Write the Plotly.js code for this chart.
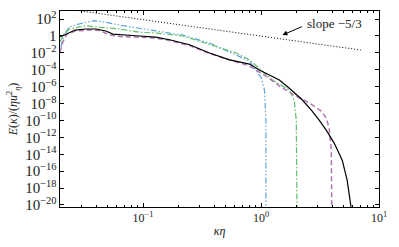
<!DOCTYPE html>
<html><head><meta charset="utf-8">
<script src="https://cdn.plot.ly/plotly-3.0.1.min.js"></script>
<style>html,body{margin:0;padding:0;background:#fff}#chart{width:399px;height:247px}</style>
</head><body><div id="chart"></div>
<script>
// black solid
const kBlack = [0.0198,0.0222,0.0265,0.0328,0.0398,0.0484,0.0555,0.0867,0.128,0.168,0.248,0.366,0.541,0.798,0.968,1.43,1.81,2.24,2.67,3.11,3.57,4.17,4.88,5.37,5.81,5.9];
const eBlack = [0.74,1.66,5.0,6.6,6.6,3.8,1.66,1.05,0.74,0.355,0.091,0.0095,1.5e-3,4.7e-4,9.1e-5,6.0e-6,4.0e-7,2.6e-8,1.7e-9,1.1e-10,7.2e-12,2.1e-13,2.0e-15,8.7e-18,5.6e-21,1e-21];
// purple dashed
const kPurple = [0.0198,0.0209,0.0226,0.0265,0.0354,0.0431,0.0522,0.0635,0.0867,0.128,0.168,0.248,0.366,0.541,0.798,1.07,1.43,1.91,2.32,2.82,3.24,3.57,3.78,3.94,3.97,3.98];
const ePurple = [0.0123,0.19,1.66,3.8,5.0,4.4,1.29,0.85,0.74,0.56,0.29,0.072,0.0083,1.4e-3,2.75e-4,2.3e-5,1.2e-6,1.0e-7,2.6e-8,5.0e-9,1.3e-9,1.9e-10,1.26e-11,3.2e-14,1e-18,1e-21];
// green dash-dot
const kGreen = [0.0198,0.0214,0.0236,0.0328,0.0431,0.0635,0.0938,0.131,0.217,0.366,0.619,0.798,1.03,1.25,1.74,1.91,1.99,2.02,2.02];
const eGreen = [0.19,1.66,6.6,16.2,10.5,6.6,2.7,2.2,0.98,0.091,0.0095,1.5e-3,7.1e-5,6.0e-6,4.0e-7,2.6e-8,1.1e-10,1e-15,1e-21];
// blue dash-dot-dot
const kBlue = [0.0201,0.0214,0.0236,0.0286,0.0383,0.0484,0.0673,0.0993,0.131,0.217,0.366,0.619,0.798,1.007,1.07,1.10,1.10];
const eBlue = [0.049,1.29,11.2,25.7,63,40.7,16.2,6.6,3.8,1.29,0.145,6.0e-3,1.07e-3,1.05e-5,4.0e-7,1.1e-10,1e-21];
// reference slope line
const kSlope = [0.0280,7.02];
const eSlope = [1000,0.0214];
const slopeLabel = "slope \u22125/3";
// tick labels
const xTickVals = [0.1,1,10];
const xTickText = ['10<sup>\u22121</sup>','10<sup>0</sup>','10<sup>1</sup>'];

const serif = "'Liberation Serif', 'DejaVu Serif', serif";
const traces = [
  {x:kSlope,y:eSlope,mode:'lines',line:{color:'#000',width:1,dash:'1px,2px'},hoverinfo:'skip'},
  {x:kBlue,y:eBlue,mode:'lines',line:{color:'#5da5da',width:1.2,dash:'6px,2px,1.5px,2px,1.5px,2px'}},
  {x:kGreen,y:eGreen,mode:'lines',line:{color:'#60bd68',width:1.2,dash:'6px,2px,1.5px,2px'}},
  {x:kPurple,y:ePurple,mode:'lines',line:{color:'#b276b2',width:1.5,dash:'5px,3px'}},
  {x:kBlack,y:eBlack,mode:'lines',line:{color:'#000',width:1.2}}
];
const axisCommon = {type:'log',showline:true,linecolor:'#000',linewidth:1,mirror:'ticks',ticks:'inside',ticklen:4,tickcolor:'#000',
  showgrid:false,zeroline:false,exponentformat:'power',tickfont:{family:serif,size:12,color:'#222'}};
const layout = {
  width:399,height:247,margin:{l:60,r:20,t:11,b:40},
  paper_bgcolor:'#fff',plot_bgcolor:'#fff',showlegend:false,
  xaxis:Object.assign({},axisCommon,{range:[-1.704,1.0],tickvals:xTickVals,ticktext:xTickText,
    minor:{ticks:'inside',ticklen:2,tickcolor:'#000',dtick:'D1',showgrid:false},
    title:{text:'<i>κη</i>',font:{family:serif,size:12,color:'#222'},standoff:2}}),
  yaxis:Object.assign({},axisCommon,{range:[-20.24,2.95],dtick:2,tick0:0,
    title:{text:'<i>E</i>(<i>κ</i>)/(<i>ηu</i><sup>2</sup><sub><i>η</i></sub>)',font:{family:serif,size:12,color:'#222'},standoff:4}}),
  annotations:[
    {x:0.620,y:1.53,xref:'x',yref:'y',text:slopeLabel,showarrow:false,xanchor:'center',yanchor:'middle',
      font:{family:serif,size:13,color:'#222'}},
    {x:0.181,y:0.107,xref:'x',yref:'y',text:'',showarrow:true,arrowhead:2,arrowsize:1,arrowwidth:1,arrowcolor:'#000',
      ax:21,ay:-9,standoff:0}
  ]
};
Plotly.newPlot('chart',traces,layout,{staticPlot:true});
</script></body></html>
